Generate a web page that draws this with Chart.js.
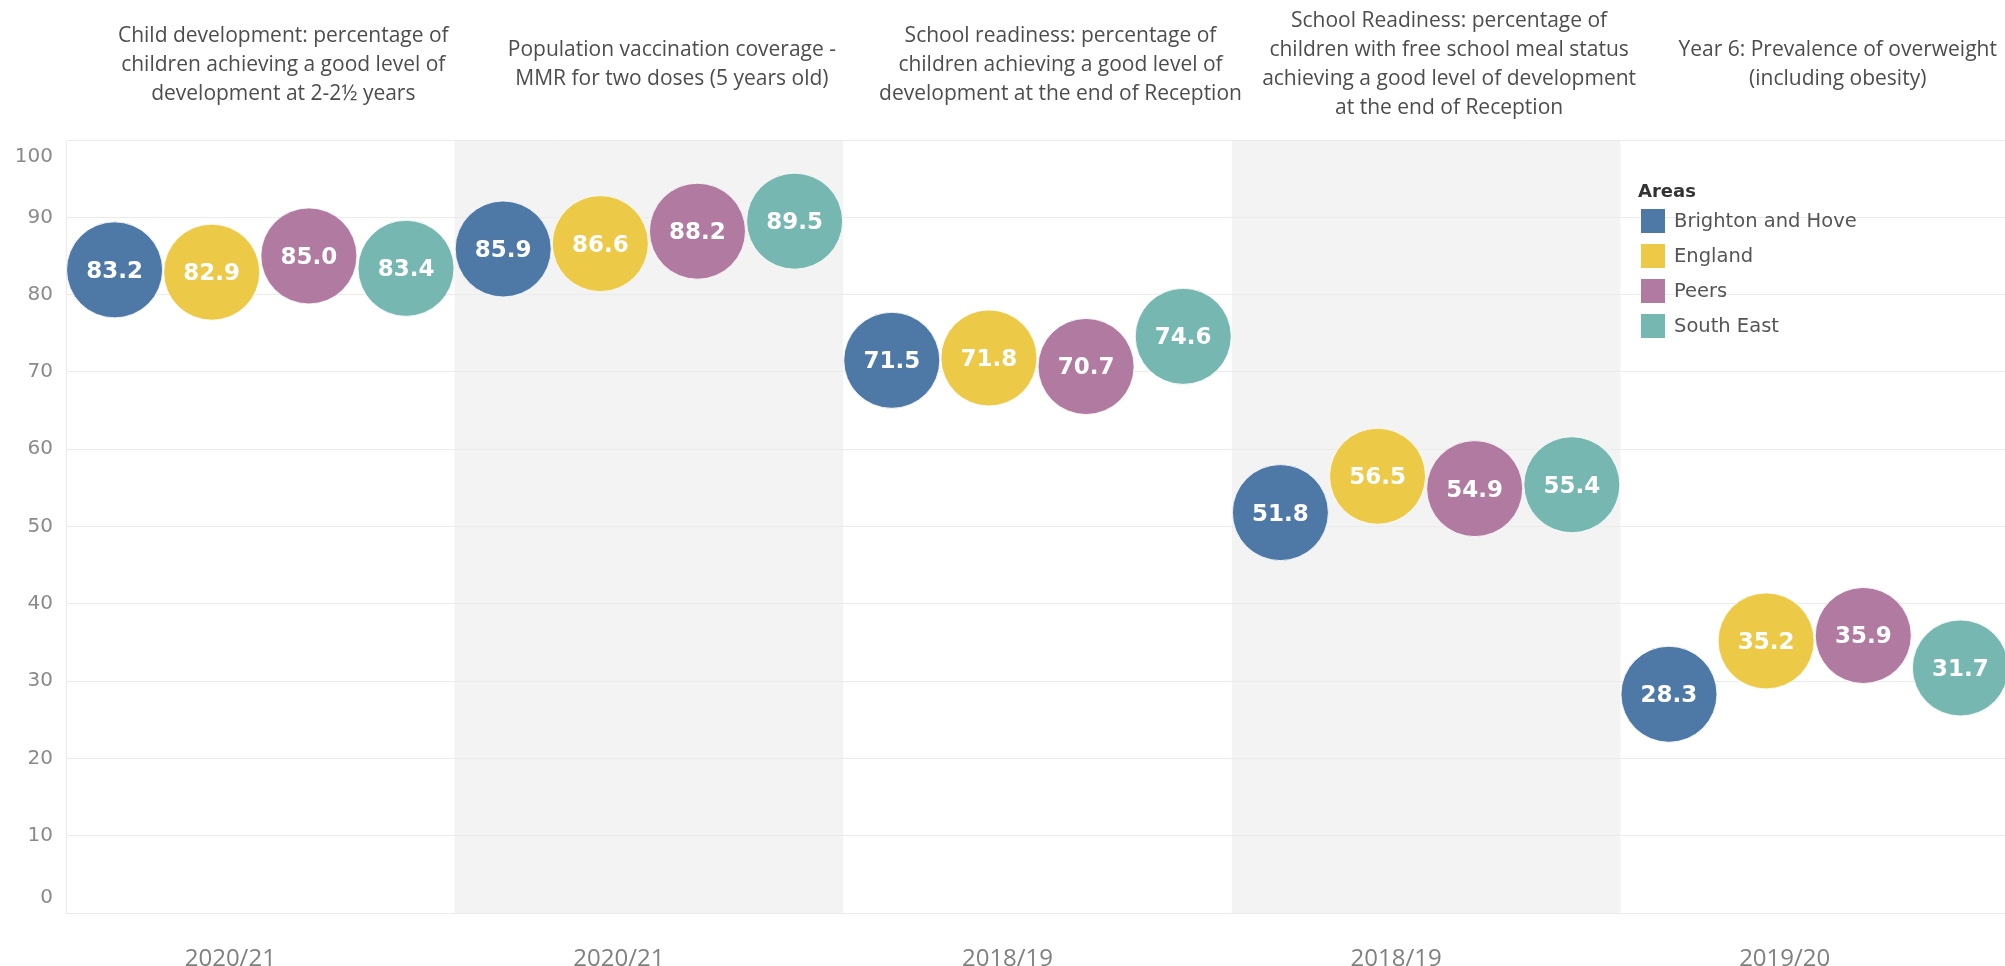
<!DOCTYPE html>
<html>
<head>
<meta charset="utf-8">
<script src="https://cdn.jsdelivr.net/npm/chart.js@4.4.0/dist/chart.umd.min.js"></script>
<style>
  html, body { margin: 0; padding: 0; background: #fff; overflow: hidden; }
  #wrap { position: relative; width: 2009px; height: 966px; }
</style>
</head>
<body>
<div id="wrap"><canvas id="chart"></canvas></div>
<script>
const indicators = [
  ['Child development: percentage of', 'children achieving a good level of', 'development at 2-2½ years'],
  ['Population vaccination coverage -', 'MMR for two doses (5 years old)'],
  ['School readiness: percentage of', 'children achieving a good level of', 'development at the end of Reception'],
  ['School Readiness: percentage of', 'children with free school meal status', 'achieving a good level of development', 'at the end of Reception'],
  ['Year 6: Prevalence of overweight', '(including obesity)']
]
const periods = ['2020/21', '2020/21', '2018/19', '2018/19', '2019/20']

const areas = ['Brighton and Hove', 'England', 'Peers', 'South East']
const areaColors = ['#4e79a7', '#edc948', '#b07aa1', '#76b7b2']

const brightonAndHove = [83.2, 85.9, 71.5, 51.8, 28.3]
const england = [82.9, 86.6, 71.8, 56.5, 35.2]
const peers = [85.0, 88.2, 70.7, 54.9, 35.9]
const southEast = [83.4, 89.5, 74.6, 55.4, 31.7]
const seriesValues = [brightonAndHove, england, peers, southEast]

const yTicks = [0, 10, 20, 30, 40, 50, 60, 70, 80, 90, 100]

const SANS = '"DejaVu Sans", Verdana, sans-serif'
const LIGHT = '"Open Sans", "Noto Sans", sans-serif'

// alternate grey panels behind each indicator
const panelBackground = {
  id: 'panelBackground',
  beforeDraw(chart) {
    const { ctx, chartArea, scales } = chart
    ctx.save()
    ctx.fillStyle = '#f3f3f3'
    indicators.forEach((_, i) => {
      if (i % 2 === 0) return
      const l = scales.x.getPixelForValue(i)
      const r = scales.x.getPixelForValue(i + 1)
      ctx.fillRect(l, chartArea.top, r - l, chartArea.bottom - chartArea.top)
    })
    ctx.restore()
  }
}

const headers = {
  id: 'headers',
  afterDraw(chart) {
    const { ctx, scales } = chart
    const lh = 29
    ctx.save()
    ctx.fillStyle = '#4d4d4d'
    ctx.font = '21px ' + LIGHT
    ctx.textAlign = 'center'
    ctx.textBaseline = 'middle'
    indicators.forEach((lines, i) => {
      const cx = scales.x.getPixelForValue(i + 0.5) + 23
      const y0 = 65 - (lines.length - 1) * lh / 2
      lines.forEach((t, k) => ctx.fillText(t, cx, y0 + k * lh))
    })
    ctx.restore()
  }
}

// y labels, kept inside the plot like the original
const yLabels = {
  id: 'yLabels',
  afterDraw(chart) {
    const { ctx, chartArea, scales } = chart
    ctx.save()
    ctx.fillStyle = '#8a8a8a'
    ctx.font = '20px ' + SANS
    ctx.textAlign = 'right'
    ctx.textBaseline = 'middle'
    yTicks.forEach(v => {
      let py = scales.y.getPixelForValue(v)
      py = Math.min(Math.max(py, chartArea.top + 17), chartArea.bottom - 15)
      ctx.fillText(String(v), 53, py)
    })
    ctx.restore()
  }
}

const bubbleLabels = {
  id: 'bubbleLabels',
  afterDatasetsDraw(chart) {
    const { ctx } = chart
    ctx.save()
    ctx.fillStyle = '#ffffff'
    ctx.font = 'bold 23px ' + SANS
    ctx.textAlign = 'center'
    ctx.textBaseline = 'middle'
    chart.data.datasets.forEach((ds, d) => {
      chart.getDatasetMeta(d).data.forEach((el, i) => {
        ctx.fillText(ds.data[i].y.toFixed(1), el.x, el.y + 2)
      })
    })
    ctx.restore()
  }
}

const areaLegend = {
  id: 'areaLegend',
  afterDraw(chart) {
    const { ctx } = chart
    const x = 1641, top = 209, step = 35
    ctx.save()
    ctx.textBaseline = 'middle'
    ctx.textAlign = 'left'
    ctx.fillStyle = '#333'
    ctx.font = 'bold 18px ' + SANS
    ctx.fillText('Areas', x - 3, 192)
    ctx.font = '19.5px ' + SANS
    chart.data.datasets.forEach((ds, k) => {
      ctx.fillStyle = ds.backgroundColor
      ctx.fillRect(x, top + k * step, 24, 24)
      ctx.fillStyle = '#555'
      ctx.fillText(ds.label, x + 33, top + k * step + 13)
    })
    ctx.restore()
  }
}

new Chart(document.getElementById('chart'), {
  type: 'bubble',
  data: {
    datasets: areas.map((name, s) => ({
      label: name,
      data: seriesValues[s].map((v, i) => ({ x: i + (s + 0.5) / areas.length, y: v })),
      backgroundColor: areaColors[s],
      borderColor: 'rgba(255,255,255,0.85)',
      borderWidth: 1,
      radius: 48,
      hoverRadius: 0
    }))
  },
  options: {
    responsive: true,
    maintainAspectRatio: false,
    animation: false,
    events: [],
    layout: { autoPadding: false, padding: { top: 140, left: 0, right: 0, bottom: 0 } },
    plugins: {
      legend: { display: false },
      tooltip: { enabled: false }
    },
    scales: {
      x: {
        type: 'linear',
        min: 0,
        max: indicators.length,
        grid: { display: false },
        border: { display: false },
        afterBuildTicks: s => { s.ticks = periods.map((_, i) => ({ value: i + 0.5 })) },
        afterFit: s => { s.height = 53 },
        ticks: {
          autoSkip: false,
          maxRotation: 0,
          padding: 24,
          labelOffset: -30,
          color: '#808080',
          font: { family: LIGHT, size: 24 },
          callback: (v, i) => periods[i]
        }
      },
      y: {
        min: 0,
        max: 100,
        grid: { color: '#ebebeb', drawTicks: false },
        border: { display: true, color: '#ebebeb' },
        afterFit: s => { s.width = 66 },
        ticks: { stepSize: 10, display: false }
      }
    }
  },
  plugins: [panelBackground, headers, yLabels, bubbleLabels, areaLegend]
})
</script>
</body>
</html>
